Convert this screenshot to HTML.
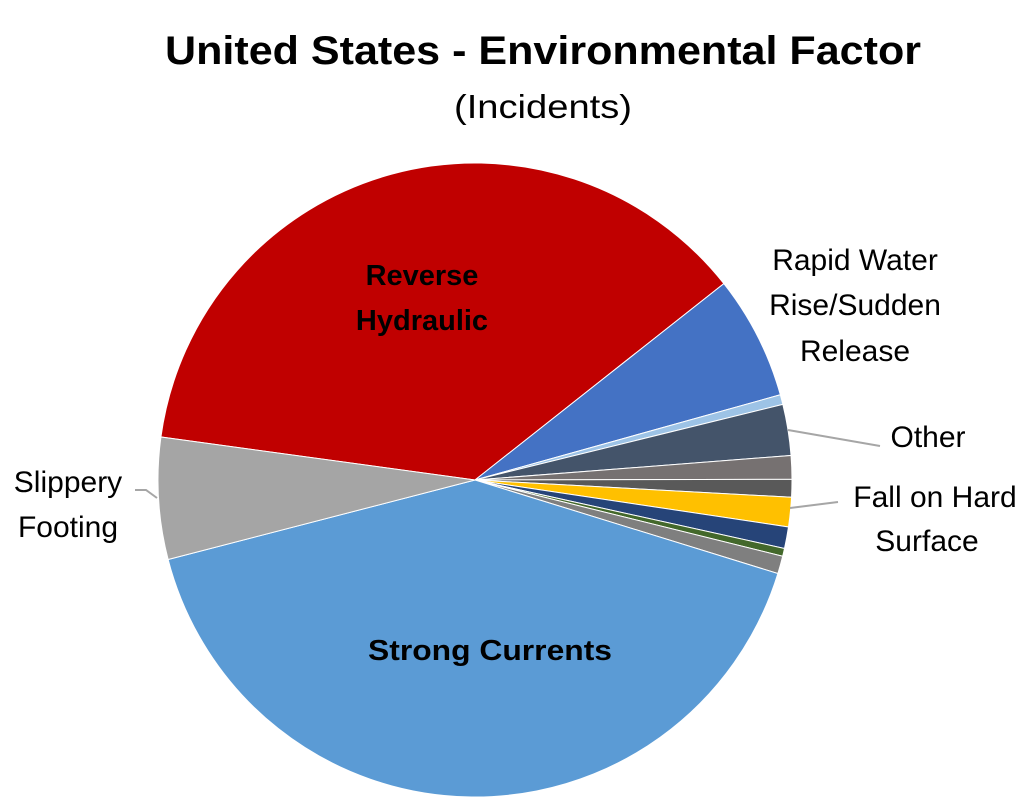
<!DOCTYPE html>
<html><head><meta charset="utf-8"><style>
html,body{margin:0;padding:0;background:#fff;}
svg{display:block;font-family:"Liberation Sans",sans-serif;}
</style></head><body>
<svg id="chart" width="1031" height="808" viewBox="0 0 1031 808">
<text x="543" y="64" text-anchor="middle" font-size="40" font-weight="bold" textLength="756" lengthAdjust="spacingAndGlyphs">United States - Environmental Factor</text>
<text x="543" y="118" text-anchor="middle" font-size="33" textLength="178" lengthAdjust="spacingAndGlyphs">(Incidents)</text>
<g id="slices"></g>
<g font-size="30">
<text x="422" y="285" text-anchor="middle" font-weight="bold" font-size="29">Reverse</text>
<text x="422" y="330" text-anchor="middle" font-weight="bold" font-size="29">Hydraulic</text>
<text x="490" y="660" text-anchor="middle" font-weight="bold" font-size="29" textLength="244" lengthAdjust="spacingAndGlyphs">Strong Currents</text>
<text x="855" y="270" text-anchor="middle">Rapid Water</text>
<text x="855" y="315" text-anchor="middle">Rise/Sudden</text>
<text x="855" y="361" text-anchor="middle">Release</text>
<text x="928" y="447" text-anchor="middle">Other</text>
<text x="935" y="507" text-anchor="middle">Fall on Hard</text>
<text x="927" y="551" text-anchor="middle">Surface</text>
<text x="68" y="492" text-anchor="middle">Slippery</text>
<text x="68" y="537" text-anchor="middle">Footing</text>
<polyline points="788,430 880,446" stroke="#a6a6a6" stroke-width="2" fill="none"/>
<polyline points="790,508 838,502" stroke="#a6a6a6" stroke-width="2" fill="none"/>
<polyline points="135,490 146,490 157,498" stroke="#a6a6a6" stroke-width="2" fill="none"/>
</g>
</svg>
<script>
const categories = ["Reverse Hydraulic","Rapid Water Rise/Sudden Release","Minor A","Other","Minor B","Minor C","Fall on Hard Surface","Minor D","Minor E","Minor F","Strong Currents","Slippery Footing"];
const values = [37.2, 6.3, 0.5, 2.6, 1.2, 0.9, 1.5, 1.1, 0.4, 0.9, 41.2, 6.2];
const colors = ["#C00000","#4472C4","#9DC3E6","#44546A","#767171","#595959","#FFC000","#264478","#43682B","#7F7F7F","#5B9BD5","#A5A5A5"];
const cx = 475, cy = 480, r = 317, startDeg = -82.2;
const g = document.getElementById('slices');
const total = values.reduce((a,b)=>a+b,0);
function pt(deg){const a=deg*Math.PI/180;return [cx+r*Math.sin(a), cy-r*Math.cos(a)];}
let acc = startDeg;
values.forEach((v,i)=>{
  const sweep = v/total*360;
  const [x1,y1]=pt(acc),[x2,y2]=pt(acc+sweep);
  const p=document.createElementNS('http://www.w3.org/2000/svg','path');
  p.setAttribute('d',`M${cx},${cy} L${x1},${y1} A${r},${r} 0 ${sweep>180?1:0} 1 ${x2},${y2} Z`);
  p.setAttribute('fill',colors[i]);
  p.setAttribute('stroke','#fff');
  p.setAttribute('stroke-width','1');
  
  
  g.appendChild(p);
  acc += sweep;
});
</script>
</body></html>
